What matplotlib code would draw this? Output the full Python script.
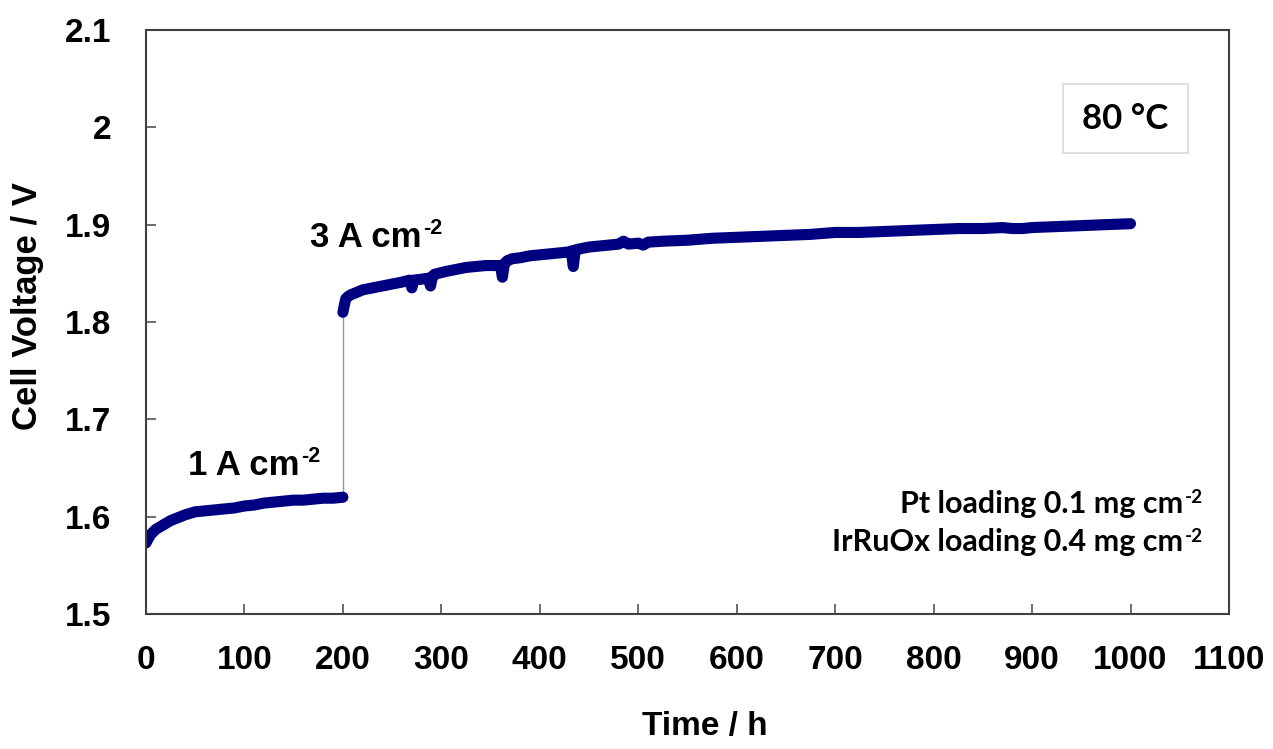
import matplotlib
matplotlib.use('Agg')
import matplotlib.pyplot as plt
from matplotlib.patches import Rectangle

plt.rcParams['font.family'] = 'Liberation Sans'
plt.rcParams['font.weight'] = 'bold'
plt.rcParams['axes.labelweight'] = 'bold'

# 1 A cm-2 hold
time_1a = [0, 2, 5, 10, 15, 20, 25, 30, 40, 50, 60, 70, 80, 90, 100,
           110, 120, 130, 140, 150, 160, 170, 180, 190, 200]
volt_1a = [1.573, 1.577, 1.582, 1.587, 1.590, 1.593, 1.596, 1.598, 1.602, 1.605,
           1.606, 1.607, 1.608, 1.609, 1.611, 1.612, 1.614, 1.615, 1.616, 1.617,
           1.617, 1.618, 1.619, 1.619, 1.620]

# 3 A cm-2 hold
time_3a = [200, 201, 202, 203, 205, 208, 213, 220, 230, 240,
           250, 260, 268, 270, 272, 280, 287, 289, 291, 293,
           297, 305, 315, 325, 335, 345, 355, 360, 362, 364,
           367, 372, 380, 390, 400, 410, 420, 430, 432, 434,
           436, 440, 450, 460, 470, 480, 485, 490, 500, 505,
           510, 525, 550, 575, 600, 625, 650, 675, 700, 725,
           750, 775, 800, 825, 850, 870, 880, 890, 900, 925,
           950, 975, 1000]
volt_3a = [1.810, 1.815, 1.820, 1.824, 1.826, 1.828, 1.830, 1.833, 1.835, 1.837,
           1.839, 1.841, 1.843, 1.835, 1.843, 1.844, 1.845, 1.837, 1.847, 1.849,
           1.850, 1.852, 1.854, 1.856, 1.857, 1.858, 1.858, 1.858, 1.846, 1.860,
           1.863, 1.865, 1.866, 1.868, 1.869, 1.870, 1.871, 1.872, 1.873, 1.857,
           1.874, 1.875, 1.877, 1.878, 1.879, 1.880, 1.883, 1.880, 1.881, 1.879,
           1.882, 1.883, 1.884, 1.886, 1.887, 1.888, 1.889, 1.890, 1.892, 1.892,
           1.893, 1.894, 1.895, 1.896, 1.896, 1.897, 1.896, 1.896, 1.897, 1.898,
           1.899, 1.900, 1.901]

x_ticks = [0, 100, 200, 300, 400, 500, 600, 700, 800, 900, 1000, 1100]
y_ticks = [1.5, 1.6, 1.7, 1.8, 1.9, 2.0, 2.1]
y_tick_labels = ['1.5', '1.6', '1.7', '1.8', '1.9', '2', '2.1']

navy = '#000080'
calibri_like = 'Lato'

fig = plt.figure(figsize=(12.73, 7.49), dpi=100)
ax = fig.add_axes([0.1147, 0.1802, 0.8507, 0.7798])

# thin connector at the current step
ax.plot([time_1a[-1], time_3a[0]], [volt_1a[-1], volt_3a[0]], color='#8a9bb8', lw=1)
for t, v in [(time_1a, volt_1a), (time_3a, volt_3a)]:
    ax.plot(t, v, color=navy, lw=8, solid_capstyle='round', solid_joinstyle='round')

ax.set_xlim(0, 1100)
ax.set_ylim(1.5, 2.1)
ax.set_xticks(x_ticks)
ax.set_yticks(y_ticks, y_tick_labels)
ax.tick_params(direction='in', length=7, width=1.2, color='#555555', labelsize=24)
ax.tick_params(axis='x', pad=22)
ax.tick_params(axis='y', pad=25)
for s in ax.spines.values():
    s.set_color('#404040')
    s.set_linewidth(1.5)

ax.set_xlabel('Time / h', fontsize=24)
ax.set_ylabel('Cell Voltage / V', fontsize=25)
ax.xaxis.set_label_coords(0.516, -0.166)
ax.yaxis.set_label_coords(-0.094, 0.527)


def label_with_sup(x, y, base, sup, size, family, coords):
    t = ax.text(x, y, base, fontsize=size, family=family, ha='left',
                va='baseline', transform=coords)
    ax.annotate(sup, xy=(1, 1), xycoords=t, xytext=(1, 2), textcoords='offset points',
                fontsize=size * 0.62, family=family, ha='left', va='top')


def right_label_with_sup(x, y, base, sup, size, family):
    s = ax.text(x, y, sup, fontsize=size * 0.62, family=family, ha='right',
                va='baseline', transform=ax.transAxes)
    ax.annotate(base, xy=(0, 0), xycoords=s, xytext=(-1, -size * 0.38),
                textcoords='offset points', fontsize=size, family=family,
                ha='right', va='bottom')


label_with_sup(167, 1.877, '3 A cm', '-2', 25, 'Liberation Sans', ax.transData)
label_with_sup(43, 1.643, '1 A cm', '-2', 25, 'Liberation Sans', ax.transData)

right_label_with_sup(0.976, 0.190, 'Pt loading 0.1 mg cm', '-2', 22, calibri_like)
right_label_with_sup(0.976, 0.124, 'IrRuOx loading 0.4 mg cm', '-2', 22, calibri_like)

ax.add_patch(Rectangle((0.8467, 0.789), 0.1154, 0.118, transform=ax.transAxes,
                       facecolor='white', edgecolor='#d9d9d9', lw=1.2))
ax.text(0.904, 0.848, '80 °C', fontsize=25, family=calibri_like, ha='center',
        va='center', transform=ax.transAxes)

fig.savefig('out.png', dpi=100)
